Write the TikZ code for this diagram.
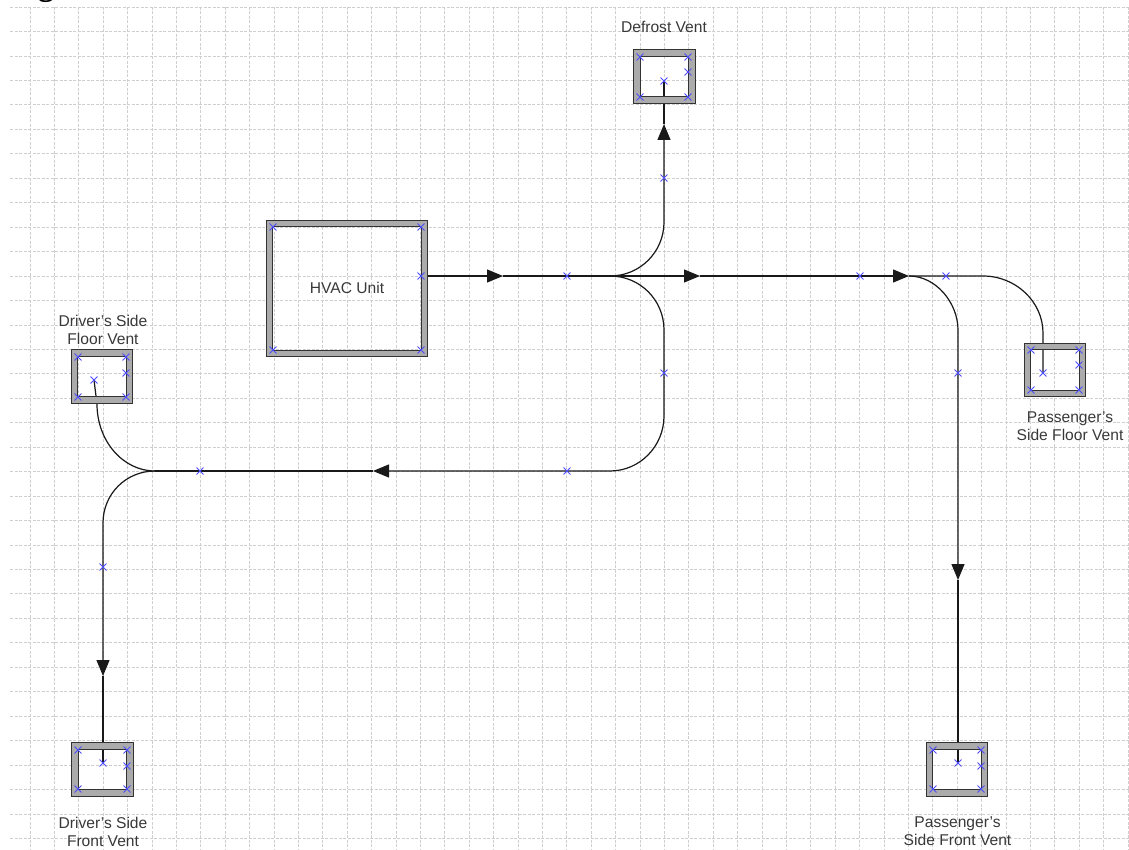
\documentclass[tikz,border=0pt]{standalone}
\usepackage{fontspec}
\setmainfont{Liberation Sans}
\newfontfamily\serifbold{Liberation Serif}
\usetikzlibrary{arrows.meta,shapes.misc}
\definecolor{gridc}{HTML}{CFCFCF}
\definecolor{bandc}{HTML}{ABABAB}
\definecolor{edgec}{HTML}{333333}
\definecolor{xblue}{HTML}{4B4BFF}
\definecolor{txtc}{HTML}{383838}
\begin{document}
\begin{tikzpicture}[x=1pt,y=-1pt,
  gridline/.style={gridc, line width=0.7pt, dash pattern=on 3pt off 1.5pt},
  hvacbox/.style={draw=edgec, line width=1.2pt, double=bandc, double distance=4.6pt, inner sep=0pt, minimum width=155pt, minimum height=130pt},
  ventbox/.style={draw=edgec, line width=1.2pt, double=bandc, double distance=5.4pt, inner sep=0pt, minimum width=55pt, minimum height=47pt},
  xmark/.style={cross out, draw=xblue, line width=0.9pt, minimum size=6pt, inner sep=0pt},
  lbl/.style={font=\fontsize{15.6}{18}\selectfont, text=txtc, align=center, inner sep=0pt, anchor=north},
  wire/.style={draw=black!90, line width=1.2pt},
  arr/.style={-{Triangle[length=16pt,width=13pt]}}
]
\clip (0,0) rectangle (1129,850);
\useasboundingbox (0,0) rectangle (1129,850);

% grid
\foreach \k in {0,...,34} {\pgfmathsetmacro\yy{7+24.45*\k}\draw[gridline] (10,\yy) -- (1129,\yy);}
\foreach \k in {0,...,45} {\pgfmathsetmacro\xx{30+24.4*\k}\draw[gridline] (\xx,7) -- (\xx,850);}

% clipped heading fragment
\node[font=\serifbold\bfseries\fontsize{32}{32}\selectfont, anchor=base west, inner sep=0pt] (head) at (38,-4.5) {g};

% ports and routing points
\coordinate (hvacP) at (421,276);
\coordinate (a1) at (503,276);
\coordinate (j1) at (610,276);
\coordinate (a2) at (700,276);
\coordinate (a3) at (909,276);
\coordinate (c1) at (983,276);
\coordinate (dfA) at (664,222);
\coordinate (dfArr) at (664,124);
\coordinate (dvP) at (664,81);
\coordinate (dn1) at (664,330);
\coordinate (dn2) at (664,416);
\coordinate (dn3) at (610,471);
\coordinate (a4) at (373,471);
\coordinate (j2) at (155,471);
\coordinate (dflP) at (94,380);
\coordinate (dflA) at (97,404);
\coordinate (dfr1) at (103,523);
\coordinate (a5) at (103,676);
\coordinate (dfrP) at (103,763);
\coordinate (pf1) at (1043,333);
\coordinate (pfP) at (1043,373);
\coordinate (pfr1) at (958,330);
\coordinate (a6) at (958,580);
\coordinate (pfrP) at (958,763);

% connectors
\draw[wire,arr] (hvacP) -- (a1);
\draw[wire,arr] (a1) -- (j1) -- (a2);
\draw[wire,arr] (a2) -- (a3);
\draw[wire] (a3) -- (c1) .. controls (1016,276) and (1043,302) .. (pf1) -- (pfP);
\draw[wire,arr] (j1) .. controls (640,276) and (664,252) .. (dfA) -- (dfArr);
\draw[wire] (dfArr) -- (dvP);
\draw[wire,arr] (j1) .. controls (640,276) and (664,300) .. (dn1) -- (dn2) .. controls (664,446) and (640,471) .. (dn3) -- (a4);
\draw[wire] (a4) -- (j2);
\draw[wire] (dflP) -- (dflA) .. controls (97,441) and (123,471) .. (j2);
\draw[wire,arr] (j2) .. controls (126,471) and (103,494) .. (dfr1) -- (a5);
\draw[wire] (a5) -- (dfrP);
\draw[wire,arr] (a3) .. controls (936,276) and (958,303) .. (pfr1) -- (a6);
\draw[wire] (a6) -- (pfrP);

% boxes
\node[hvacbox] (hvac) at (347,288.5) {};
\node[ventbox] (defrost) at (664.5,76.5) {};
\node[ventbox] (dfloor) at (102,376.5) {};
\node[ventbox] (dfront) at (102.5,769.5) {};
\node[ventbox] (pfloor) at (1055,370) {};
\node[ventbox] (pfront) at (957,769.5) {};

% connection markers
\foreach \p [count=\i] in {
  {273,227},{421,227},{421,276},{273,350},{421,350},
  {640,57},{688,57},{688,72},{640,97},{688,97},{664,81},
  {78,357},{126,357},{126,373},{78,397},{126,397},{94,380},
  {78,750},{127,750},{127,766},{78,789},{127,789},{103,763},
  {1031,350},{1079,350},{1079,365},{1031,390},{1079,390},{1043,373},
  {933,750},{981,750},{981,766},{933,789},{981,789},{958,763},
  {567,276},{860,276},{946,276},{664,178},{664,373},{567,471},{200,471},{103,567},{958,373}}
  {\node[xmark] (m\i) at (\p) {};}

% labels
\node[lbl] (hvaclbl) at (347,282) {HVAC Unit};
\node[lbl] (defrostlbl) at (664,21) {Defrost Vent};
\node[lbl] (dfloorlbl) at (103,315) {Driver's Side\\Floor Vent};
\node[lbl] (dfrontlbl) at (103,817) {Driver's Side\\Front Vent};
\node[lbl] (pfloorlbl) at (1070,412) {Passenger's\\Side Floor Vent};
\node[lbl] (pfrontlbl) at (957.5,817) {Passenger's\\Side Front Vent};
\end{tikzpicture}
\end{document}
